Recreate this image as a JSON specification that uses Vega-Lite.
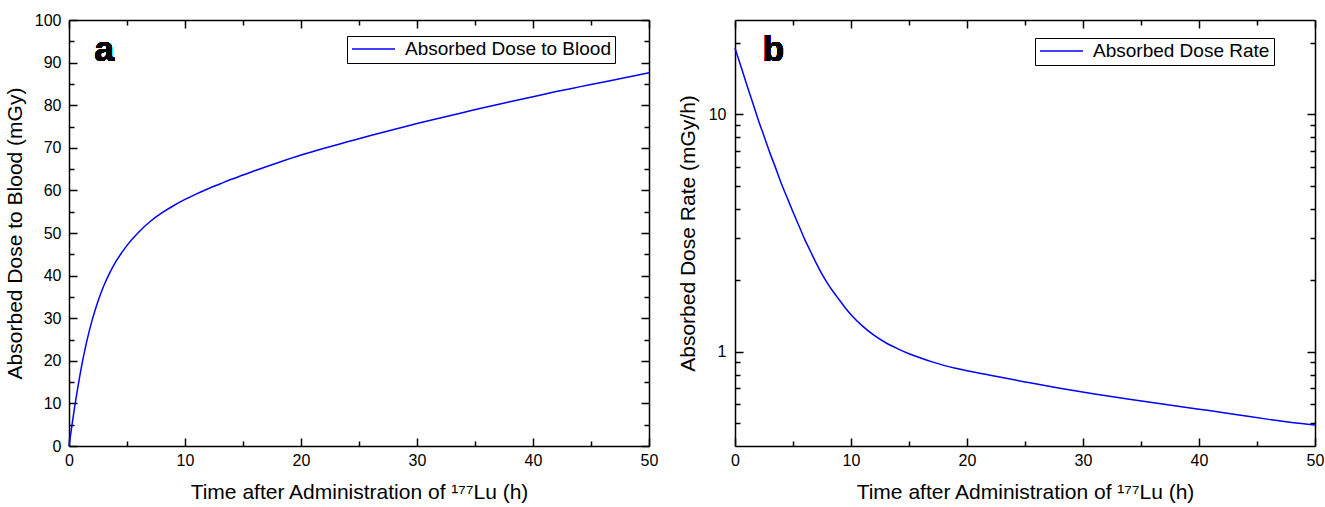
{
  "$schema": "https://vega.github.io/schema/vega-lite/v6.json",
  "autosize": {"type": "none"},
  "padding": {"left": 69, "top": 20, "right": 1256, "bottom": 61},
  "background": "white",
  "bounds": "flush",
  "spacing": 86,
  "config": {
    "view": {"stroke": null},
    "axis": {
      "domainColor": "black", "domainWidth": 1.5,
      "tickColor": "black", "tickWidth": 1.5, "tickSize": -8,
      "labelFont": "Liberation Sans", "labelFontSize": 16, "labelColor": "black",
      "titleFont": "Liberation Sans", "titleFontSize": 21, "titleFontWeight": "normal", "titleColor": "black",
      "grid": false, "labelFlush": false, "labelOverlap": false
    },
    "legend": {
      "orient": "none", "strokeColor": "black", "strokeWidth": 1, "fillColor": "white",
      "padding": 4, "cornerRadius": 0, "symbolType": "M-1,0H1", "symbolSize": 1849,
      "symbolStrokeWidth": 1.5, "labelFont": "Liberation Sans", "labelFontSize": 19,
      "labelColor": "black", "labelOffset": 9, "labelLimit": 400, "clipHeight": 18, "title": null
    }
  },
  "hconcat": [
    {
      "width": 580,
      "height": 426,
      "data": {"values": [
        {"t": 0, "v": 0}, {"t": 0.25, "v": 4.8}, {"t": 0.5, "v": 9.4}, {"t": 0.75, "v": 13.6},
        {"t": 1, "v": 17.5}, {"t": 1.5, "v": 24.2}, {"t": 2, "v": 29.6}, {"t": 2.5, "v": 34.0},
        {"t": 3, "v": 37.6}, {"t": 3.5, "v": 40.6}, {"t": 4, "v": 43.1}, {"t": 4.5, "v": 45.2},
        {"t": 5, "v": 47.1}, {"t": 6, "v": 50.2}, {"t": 7, "v": 52.7}, {"t": 8, "v": 54.7},
        {"t": 9, "v": 56.4}, {"t": 10, "v": 57.9}, {"t": 11, "v": 59.2}, {"t": 12, "v": 60.4},
        {"t": 13, "v": 61.5}, {"t": 14, "v": 62.6}, {"t": 15, "v": 63.6}, {"t": 16, "v": 64.6},
        {"t": 18, "v": 66.5}, {"t": 20, "v": 68.3}, {"t": 22, "v": 69.9}, {"t": 24, "v": 71.4},
        {"t": 26, "v": 72.9}, {"t": 28, "v": 74.3}, {"t": 30, "v": 75.7}, {"t": 32, "v": 77.0},
        {"t": 34, "v": 78.3}, {"t": 36, "v": 79.6}, {"t": 38, "v": 80.8}, {"t": 40, "v": 82.0},
        {"t": 42, "v": 83.2}, {"t": 44, "v": 84.3}, {"t": 46, "v": 85.4}, {"t": 48, "v": 86.5},
        {"t": 50, "v": 87.6}
      ]},
      "layer": [
        {
          "mark": {"type": "line", "strokeWidth": 1.5, "interpolate": "monotone"},
          "encoding": {
            "x": {"field": "t", "type": "quantitative", "scale": {"domain": [0, 50], "nice": false, "zero": false},
              "axis": {"orient": "bottom", "values": [0, 5, 10, 15, 20, 25, 30, 35, 40, 45, 50],
                "labelExpr": "datum.value % 10 === 0 ? datum.label : ''",
                "tickDash": {"condition": {"test": "datum.value % 10 !== 0", "value": [5, 20]}, "value": []},
                "labelPadding": 14, "titlePadding": 13,
                "title": "Time after Administration of ¹⁷⁷Lu (h)"}},
            "y": {"field": "v", "type": "quantitative", "scale": {"domain": [0, 100], "nice": false},
              "axis": {"orient": "left", "values": [0, 5, 10, 15, 20, 25, 30, 35, 40, 45, 50, 55, 60, 65, 70, 75, 80, 85, 90, 95, 100],
                "labelExpr": "datum.value % 10 === 0 ? datum.label : ''",
                "tickDash": {"condition": {"test": "datum.value % 10 !== 0", "value": [5, 20]}, "value": []},
                "labelPadding": 16, "titlePadding": 9,
                "title": "Absorbed Dose to Blood (mGy)"}},
            "color": {"datum": "Absorbed Dose to Blood", "type": "nominal",
              "scale": {"range": ["#0000ff"]},
              "legend": {"legendX": 278, "legendY": 16}}
          }
        },
        {
          "mark": {"type": "line", "opacity": 0},
          "encoding": {
            "x": {"field": "t", "type": "quantitative",
              "axis": {"orient": "top", "values": [0, 5, 10, 15, 20, 25, 30, 35, 40, 45, 50], "labels": false, "title": null,
                "tickDash": {"condition": {"test": "datum.value % 10 !== 0", "value": [5, 20]}, "value": []}}},
            "y": {"field": "v", "type": "quantitative",
              "axis": {"orient": "right", "values": [0, 5, 10, 15, 20, 25, 30, 35, 40, 45, 50, 55, 60, 65, 70, 75, 80, 85, 90, 95, 100], "labels": false, "title": null,
                "tickDash": {"condition": {"test": "datum.value % 10 !== 0", "value": [5, 20]}, "value": []}}}
          }
        },
        {
          "mark": {"type": "text", "text": "a", "align": "left", "baseline": "alphabetic", "fontSize": 35, "fontWeight": "bold", "font": "Liberation Sans", "fill": "black", "stroke": null},
          "encoding": {
            "x": {"datum": 2.2, "type": "quantitative", "axis": null},
            "y": {"datum": 90.4, "type": "quantitative", "axis": null}
          }
        }
      ],
      "resolve": {"axis": {"x": "independent", "y": "independent"}}
    },
    {
      "width": 580,
      "height": 426,
      "data": {"values": [
        {"t": 0, "r": 19.0}, {"t": 0.5, "r": 16.0}, {"t": 1, "r": 13.4}, {"t": 1.5, "r": 11.3},
        {"t": 2, "r": 9.5}, {"t": 2.5, "r": 8.1}, {"t": 3, "r": 6.9}, {"t": 3.5, "r": 5.95},
        {"t": 4, "r": 5.1}, {"t": 4.5, "r": 4.45}, {"t": 5, "r": 3.88}, {"t": 5.5, "r": 3.4},
        {"t": 6, "r": 2.98}, {"t": 6.5, "r": 2.65}, {"t": 7, "r": 2.36}, {"t": 7.5, "r": 2.12},
        {"t": 8, "r": 1.93}, {"t": 8.5, "r": 1.78}, {"t": 9, "r": 1.65}, {"t": 9.5, "r": 1.53},
        {"t": 10, "r": 1.43}, {"t": 11, "r": 1.28}, {"t": 12, "r": 1.17}, {"t": 13, "r": 1.09},
        {"t": 14, "r": 1.03}, {"t": 15, "r": 0.98}, {"t": 16, "r": 0.94}, {"t": 17, "r": 0.905},
        {"t": 18, "r": 0.875}, {"t": 19, "r": 0.85}, {"t": 20, "r": 0.83}, {"t": 22, "r": 0.795},
        {"t": 25, "r": 0.745}, {"t": 28, "r": 0.70}, {"t": 31, "r": 0.662}, {"t": 34, "r": 0.63},
        {"t": 37, "r": 0.60}, {"t": 40, "r": 0.572}, {"t": 43, "r": 0.545}, {"t": 46, "r": 0.518},
        {"t": 48, "r": 0.502}, {"t": 50, "r": 0.49}
      ]},
      "layer": [
        {
          "mark": {"type": "line", "strokeWidth": 1.5, "interpolate": "monotone"},
          "encoding": {
            "x": {"field": "t", "type": "quantitative", "scale": {"domain": [0, 50], "nice": false, "zero": false},
              "axis": {"orient": "bottom", "values": [0, 5, 10, 15, 20, 25, 30, 35, 40, 45, 50],
                "labelExpr": "datum.value % 10 === 0 ? datum.label : ''",
                "tickDash": {"condition": {"test": "datum.value % 10 !== 0", "value": [5, 20]}, "value": []},
                "labelPadding": 14, "titlePadding": 13,
                "title": "Time after Administration of ¹⁷⁷Lu (h)"}},
            "y": {"field": "r", "type": "quantitative", "scale": {"type": "log", "domain": [0.4, 25], "nice": false},
              "axis": {"orient": "left", "values": [0.5, 0.6, 0.7, 0.8, 0.9, 1, 2, 3, 4, 5, 6, 7, 8, 9, 10, 20],
                "labelExpr": "datum.value == 1 ? '1' : (datum.value == 10 ? '10' : '')",
                "tickDash": {"condition": {"test": "datum.value != 1 && datum.value != 10", "value": [5, 20]}, "value": []},
                "labelPadding": 17, "titlePadding": 10,
                "title": "Absorbed Dose Rate (mGy/h)"}},
            "color": {"datum": "Absorbed Dose Rate", "type": "nominal",
              "scale": {"range": ["#0000ff"]},
              "legend": {"legendX": 300, "legendY": 18}}
          }
        },
        {
          "mark": {"type": "line", "opacity": 0},
          "encoding": {
            "x": {"field": "t", "type": "quantitative",
              "axis": {"orient": "top", "values": [0, 5, 10, 15, 20, 25, 30, 35, 40, 45, 50], "labels": false, "title": null,
                "tickDash": {"condition": {"test": "datum.value % 10 !== 0", "value": [5, 20]}, "value": []}}},
            "y": {"field": "r", "type": "quantitative",
              "axis": {"orient": "right", "values": [0.5, 0.6, 0.7, 0.8, 0.9, 1, 2, 3, 4, 5, 6, 7, 8, 9, 10, 20], "labels": false, "title": null,
                "tickDash": {"condition": {"test": "datum.value != 1 && datum.value != 10", "value": [5, 20]}, "value": []}}}
          }
        },
        {
          "mark": {"type": "text", "text": "b", "align": "left", "baseline": "alphabetic", "fontSize": 35, "fontWeight": "bold", "font": "Liberation Sans", "fill": "black", "stroke": null},
          "encoding": {
            "x": {"datum": 2.4, "type": "quantitative", "axis": null},
            "y": {"datum": 16.8, "type": "quantitative", "axis": null}
          }
        }
      ],
      "resolve": {"axis": {"x": "independent", "y": "independent"}}
    }
  ],
  "resolve": {"scale": {"color": "independent"}, "legend": {"color": "independent"}}
}
